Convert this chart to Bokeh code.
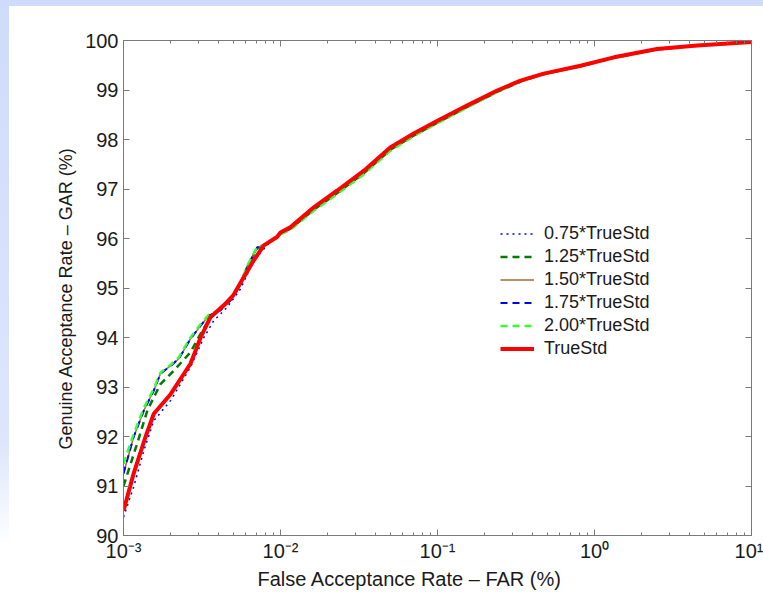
from bokeh.plotting import figure
from bokeh.models import LogAxis, LinearAxis, FixedTicker, LogTicker, Legend, LegendItem, Range1d, Title
from bokeh.embed import file_html
from bokeh.resources import INLINE

# ---------------- data ----------------
tail_x = [0.01, 0.0116, 0.0163, 0.023, 0.034, 0.05, 0.0706, 0.1, 0.155, 0.24, 0.338, 0.475, 0.815, 1.33, 2.5, 4.5, 10]

x_075 = [0.001, 0.00116, 0.00135, 0.00156, 0.0020, 0.00267, 0.00325, 0.00376, 0.00457, 0.00556, 0.00676, 0.0082] + tail_x
y_075 = [90.37, 90.98, 91.72, 92.32, 92.73, 93.40, 94.00, 94.34, 94.61, 94.98, 95.56, 95.86,
         96.11, 96.22, 96.61, 96.95, 97.35, 97.82, 98.11, 98.37, 98.68, 98.98, 99.18, 99.33, 99.49, 99.66, 99.83, 99.90, 99.97]

x_125 = [0.001, 0.00122, 0.00142, 0.00172, 0.00209, 0.00267, 0.0031, 0.00358, 0.00479, 0.00556, 0.00614, 0.0071, 0.0082, 0.0095] + tail_x
y_125 = [91.00, 91.85, 92.53, 93.06, 93.33, 93.70, 94.08, 94.40, 94.75, 95.08, 95.42, 95.80, 95.89, 96.03,
         96.10, 96.20, 96.58, 96.92, 97.32, 97.79, 98.08, 98.34, 98.66, 98.96, 99.17, 99.32, 99.48, 99.65, 99.82, 99.90, 99.97]

x_150 = [0.001, 0.00116, 0.00135, 0.00156, 0.00172, 0.0020, 0.00225, 0.00267, 0.0031, 0.00349, 0.00415, 0.00479, 0.00556, 0.00614, 0.0071, 0.0082, 0.0095] + tail_x
y_150 = [91.25, 91.99, 92.53, 92.93, 93.27, 93.43, 93.57, 93.97, 94.24, 94.44, 94.55, 94.75, 95.08, 95.42, 95.82, 95.89, 96.03,
         96.12, 96.22, 96.62, 96.96, 97.36, 97.83, 98.12, 98.38, 98.69, 98.99, 99.19, 99.33, 99.49, 99.66, 99.83, 99.90, 99.97]

x_175 = [0.001, 0.00116, 0.00135, 0.00156, 0.00172, 0.0020, 0.00225, 0.00267, 0.0031, 0.00349, 0.00415, 0.00479, 0.00556, 0.00614, 0.0071, 0.0082, 0.0095] + tail_x
y_175 = [91.25, 91.99, 92.53, 92.93, 93.27, 93.43, 93.57, 93.97, 94.24, 94.44, 94.55, 94.75, 95.08, 95.42, 95.82, 95.89, 96.03,
         96.12, 96.23, 96.63, 96.97, 97.37, 97.84, 98.12, 98.38, 98.69, 98.99, 99.19, 99.33, 99.49, 99.66, 99.83, 99.90, 99.97]

x_200 = [0.001, 0.00116, 0.00135, 0.00156, 0.00172, 0.0020, 0.00225, 0.00267, 0.0031, 0.00349, 0.00415, 0.00479, 0.00556, 0.00614, 0.0071, 0.0082, 0.0095] + tail_x
y_200 = [91.45, 92.05, 92.58, 92.97, 93.29, 93.45, 93.60, 94.00, 94.27, 94.46, 94.57, 94.77, 95.10, 95.45, 95.83, 95.89, 96.02,
         96.08, 96.18, 96.56, 96.90, 97.30, 97.77, 98.07, 98.33, 98.65, 98.96, 99.17, 99.32, 99.48, 99.65, 99.82, 99.90, 99.97]

x_true = [0.001, 0.00116, 0.00138, 0.00156, 0.0020, 0.00267, 0.0031, 0.00358, 0.00435, 0.0050, 0.00584, 0.00676, 0.00783, 0.0095] + tail_x
y_true = [90.50, 91.25, 91.99, 92.46, 92.86, 93.47, 94.00, 94.41, 94.65, 94.85, 95.22, 95.56, 95.86, 96.03,
          96.12, 96.23, 96.63, 96.97, 97.37, 97.84, 98.12, 98.38, 98.69, 98.99, 99.19, 99.33, 99.49, 99.66, 99.83, 99.90, 99.97]

labels = ["0.75*TrueStd", "1.25*TrueStd", "1.50*TrueStd", "1.75*TrueStd", "2.00*TrueStd", "TrueStd"]
x_ticks = [0.001, 0.01, 0.1, 1, 10]
x_tick_labels = ["10\u207b\u00b3", "10\u207b\u00b2", "10\u207b\u00b9", "10\u2070", "10\u00b9"]
y_ticks = [90, 91, 92, 93, 94, 95, 96, 97, 98, 99, 100]
x_title = "False Acceptance Rate \u2013 FAR (%)"
y_title = "Genuine Acceptance Rate \u2013 GAR (%)"

FONT = "Liberation Sans"
AXC = "#7a7a7a"
EDGE = "#cfdbfb"

p = figure(width=763, height=593, x_axis_type="log", output_backend="svg", toolbar_location=None,
           x_range=Range1d(0.001, 10), y_range=Range1d(90, 100),
           min_border_left=123, min_border_right=12, min_border_top=40, min_border_bottom=58)
p.xgrid.visible = False
p.ygrid.visible = False
p.outline_line_color = AXC
p.background_fill_color = "white"
p.border_fill_alpha = 0
p.styles = {
    "background": ("linear-gradient(%s, %s) 0 0 / 100%% 6px no-repeat, "
                   "linear-gradient(to bottom, %s 0%%, #dde6fb 75%%, #ffffff 92%%) 0 0 / 9px 100%% no-repeat, #ffffff")
                  % (EDGE, EDGE, EDGE)
}

def style_axis(ax, show_labels):
    ax.axis_line_color = AXC
    ax.major_tick_line_color = AXC
    ax.minor_tick_line_color = AXC
    ax.major_tick_in = 6
    ax.major_tick_out = 0
    ax.minor_tick_in = 3
    ax.minor_tick_out = 0
    ax.major_label_text_font = FONT
    ax.major_label_text_font_size = "20px"
    ax.major_label_text_color = "#1a1a1a"
    if not show_labels:
        ax.major_label_text_font_size = "0px"
        ax.major_label_text_alpha = 0

xa = p.xaxis[0]
xa.ticker = LogTicker(desired_num_ticks=5, num_minor_ticks=10)
xa.major_label_overrides = dict(zip(x_ticks, x_tick_labels))
style_axis(xa, True)
xa.major_label_standoff = 4

ya = p.yaxis[0]
ya.ticker = FixedTicker(ticks=y_ticks)
style_axis(ya, True)
ya.minor_tick_in = 0
ya.major_label_standoff = 5

top = LogAxis(ticker=LogTicker(desired_num_ticks=5, num_minor_ticks=10))
style_axis(top, False)
p.add_layout(top, "above")
right = LinearAxis(ticker=FixedTicker(ticks=y_ticks))
style_axis(right, False)
right.minor_tick_in = 0
p.add_layout(right, "right")

# axis titles as side titles (so their position along the axis can be set)
p.add_layout(Title(text=x_title, align="left", offset=134, text_font=FONT, text_font_size="20px",
                   text_font_style="normal", text_color="#1a1a1a", standoff=2), "below")
p.add_layout(Title(text=y_title, align="left", offset=86, text_font=FONT, text_font_size="18px",
                   text_font_style="normal", text_color="#1a1a1a", standoff=13), "left")

r1 = p.line(x_075, y_075, line_color="#0000ff", line_width=1.5, line_dash="dotted")
r2 = p.line(x_125, y_125, line_color="#007a00", line_width=2.5, line_dash="7 5")
r3 = p.line(x_150, y_150, line_color="#a0683a", line_width=1.5)
r4 = p.line(x_175, y_175, line_color="#0000ff", line_width=2.0, line_dash="7 5")
r5 = p.line(x_200, y_200, line_color="#33ff33", line_width=2.5, line_dash="7 5")
r6 = p.line(x_true, y_true, line_color="#ff0000", line_width=4)

items = [LegendItem(label=l, renderers=[r]) for l, r in zip(labels, [r1, r2, r3, r4, r5, r6])]
legend = Legend(items=items, location=(377, 176))
legend.border_line_alpha = 0
legend.background_fill_alpha = 0
legend.padding = 0
legend.margin = 0
legend.spacing = 2
legend.glyph_width = 34
legend.glyph_height = 21
legend.label_height = 21
legend.label_standoff = 10
legend.label_text_font = FONT
legend.label_text_font_size = "18px"
legend.label_text_color = "#1a1a1a"
p.add_layout(legend, "center")

open("out.html", "w").write(file_html(p, INLINE))
